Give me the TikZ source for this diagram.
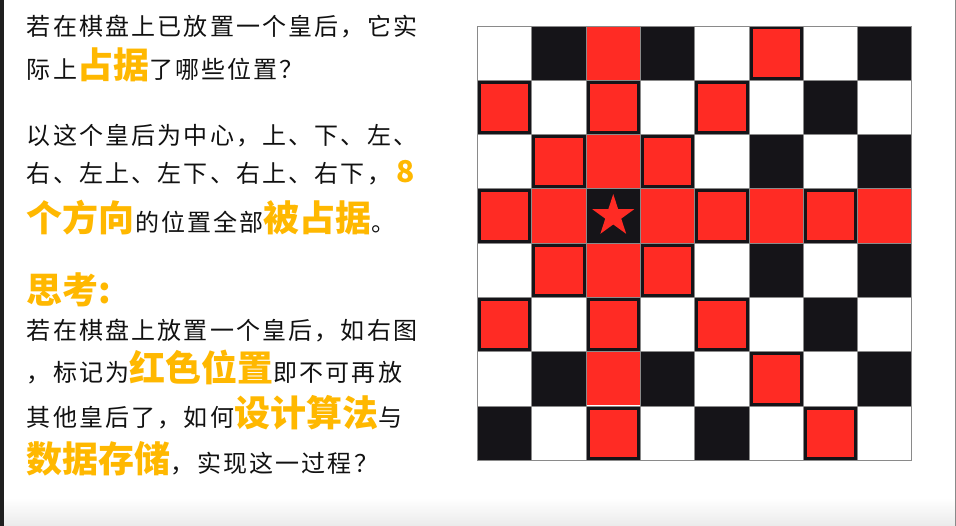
\documentclass[tikz,border=0pt]{standalone}
\usepackage{fontspec}
\usetikzlibrary{shapes.geometric}
\newfontfamily\cjkreg{Noto Sans CJK SC}[LetterSpace=9]
\newfontfamily\cjkbig{Noto Sans CJK SC}
\definecolor{hl}{HTML}{FFB800}
\definecolor{txt}{HTML}{111111}
\definecolor{darkcell}{HTML}{151418}
\definecolor{redcell}{HTML}{FF2B24}
\definecolor{gridc}{HTML}{8A8A8A}
\newcommand\txtn{\cjkreg\fontsize{24}{28}\selectfont}
\newcommand\hlt[1]{{\cjkbig\fontsize{36}{40}\selectfont\bfseries\color{hl}#1}}
\newcommand\hlnum[1]{{\cjkbig\fontsize{30}{34}\selectfont\bfseries\color{hl}#1}}
\tikzset{
  tl/.style={anchor=base west, inner sep=0pt, outer sep=0pt, text=txt, font=\txtn},
  darksq/.style={fill=darkcell},
  redsq/.style={fill=redcell},
  gridline/.style={draw=gridc, line width=0.9pt},
  queenstar/.style={star, star points=5, star point ratio=2.618, minimum size=44, inner sep=0pt, fill=redcell, draw=none}
}
\begin{document}
\begin{tikzpicture}[x=1pt,y=-1pt]
\useasboundingbox (0,0) rectangle (956,526);
\fill[white] (0,0) rectangle (956,526);
\shade[top color=white, bottom color=black!8] (0,498) rectangle (956,526);
\fill[black!88] (0,0) rectangle (4,526);
\draw[gridc, line width=1pt] (955.5,0) -- (955.5,526);

% text
\node[tl] (l1) at (27,36) {若在棋盘上已放置一个皇后，它实};
\node[tl] (l2) at (27,78.5) {际上\hlt{占据}了哪些位置？};
\node[tl] (l3) at (27,145) {以这个皇后为中心，上、下、左、};
\node[tl] (l4) at (27,183) {右、左上、左下、右上、右下，\hlnum{\,8}};
\node[tl] (l5) at (27,232) {\hlt{个方向}的位置全部\hlt{被占据}。};
\node[tl] (l6) at (27,304) {\hlt{思考:}};
\node[tl] (l7) at (27,340) {若在棋盘上放置一个皇后，如右图};
\node[tl] (l8) at (27,382) {，标记为\hlt{红色位置}即不可再放};
\node[tl] (l9) at (27,427) {其他皇后了，如何\hlt{设计算法}与};
\node[tl] (l10) at (27,472) {\hlt{数据存储}，实现这一过程？};

% board
\def\bx{477.5}
\def\by{26}
\def\cs{54.3}
\fill[white] (\bx,\by) rectangle ++(8*\cs,8*\cs);
\foreach \r in {0,...,7}{
  \foreach \c in {0,...,7}{
    \pgfmathtruncatemacro\s{mod(\r+\c,2)}
    \ifnum\s=1
      \fill[darksq] (\bx+\c*\cs,\by+\r*\cs) rectangle ++(\cs,\cs);
    \fi
  }
}
\foreach \i in {1,...,7}{
  \draw[gridline] (\bx+\i*\cs,\by) -- ++(0,8*\cs);
  \draw[gridline] (\bx,\by+\i*\cs) -- ++(8*\cs,0);
}
\foreach \r/\c in {0/2,0/5,1/0,1/2,1/4,2/1,2/2,2/3,3/0,3/1,3/3,3/4,3/5,3/6,3/7,4/1,4/2,4/3,5/0,5/2,5/4,6/2,6/5,7/2,7/6}{
  \pgfmathtruncatemacro\s{mod(\r+\c,2)}
  \ifnum\s=1
    \fill[redsq] (\bx+\c*\cs+3.5,\by+\r*\cs+3.5) rectangle ++(\cs-7,\cs-7);
  \else
    \fill[redsq] (\bx+\c*\cs+0.6,\by+\r*\cs+0.6) rectangle ++(\cs-1.2,\cs-1.2);
  \fi
}
\draw[gridline] (\bx,\by) rectangle ++(8*\cs,8*\cs);
\node[queenstar] (queen) at (\bx+2.5*\cs,\by+3.5*\cs) {};
\end{tikzpicture}
\end{document}
